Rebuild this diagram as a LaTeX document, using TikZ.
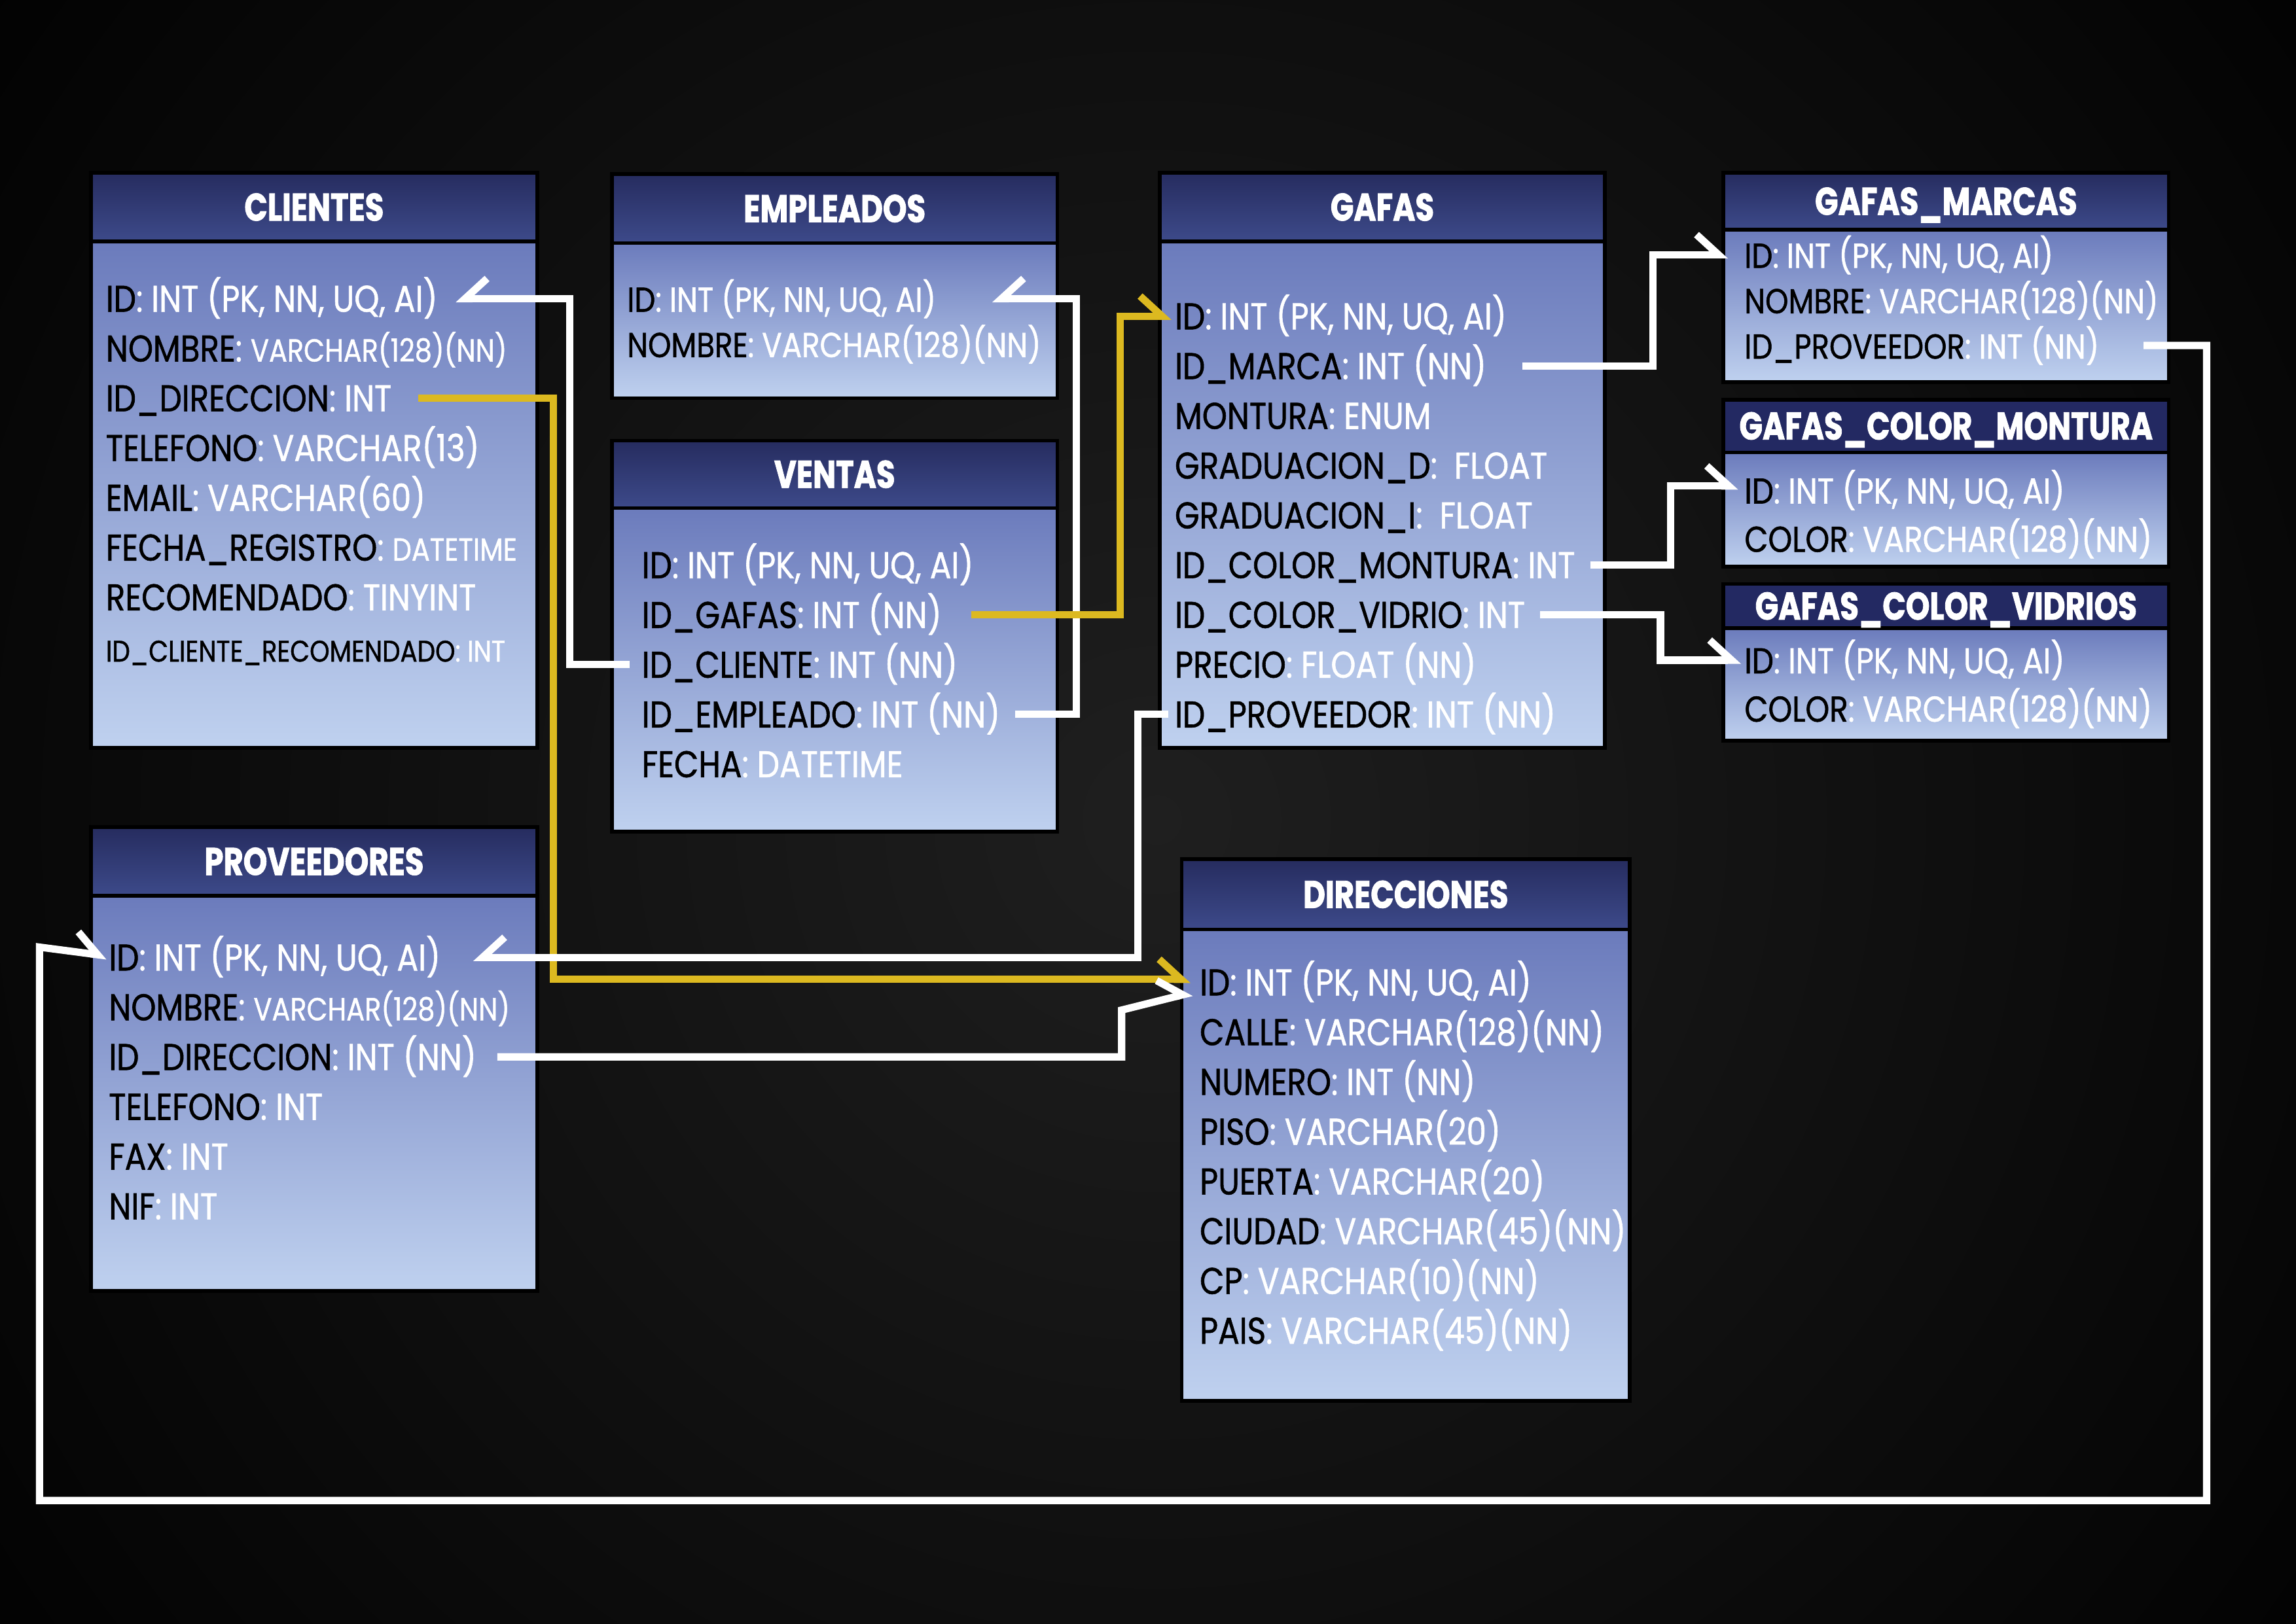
\documentclass[tikz,border=0pt]{standalone}
\usepackage{fontspec}
\newfontfamily\fldfont{Poppins}[FakeStretch=0.85, FakeBold=1]
\newfontfamily\ttlfont{Poppins}[FakeStretch=0.79, FakeBold=1.5]
\usetikzlibrary{
  arrows.meta,
  fit,
  calc,
  positioning,
}
\definecolor{hdrtop}{HTML}{262C5F}
\definecolor{hdrbot}{HTML}{3D4A8A}
\definecolor{hdrflat}{HTML}{232962}
\definecolor{bodytop}{HTML}{6B7BBC}
\definecolor{bodybot}{HTML}{BFD1EF}
\definecolor{oro}{HTML}{DCB920}
\definecolor{bgglow}{HTML}{1F1F1F}

\newcommand{\tipo}[1]{{\color{white}#1}}
\newcommand{\menor}[1]{{\fontsize{12.4pt}{14pt}\selectfont #1}}

\tikzset{
  cabecera/.style={
    rectangle,
    draw=black,
    line width=0.05cm,
    top color=hdrtop,
    bottom color=hdrbot,
    inner sep=0pt,
  },
  cabeplana/.style={
    rectangle,
    draw=black,
    line width=0.05cm,
    fill=hdrflat,
    inner sep=0pt,
  },
  titulo/.style={
    inner sep=0pt,
    text height=0.37cm,
    text depth=0pt,
    text=white,
    font=\ttlfont\bfseries\fontsize{15pt}{18pt}\selectfont
  },
  cuerpo/.style={
    rectangle,
    draw=black,
    line width=0.05cm,
    top color=bodytop,
    bottom color=bodybot,
    inner sep=0pt,
  },
  fld/.style={
    anchor=base west,
    inner sep=0pt,
    text height=0.36cm,
    text depth=0pt,
    text=black,
    font=\fldfont\fontsize{14.5pt}{17pt}\selectfont
  },
  fldmd/.style={
    fld,
    font=\fldfont\fontsize{14pt}{16pt}\selectfont
  },
  fldsm/.style={
    fld,
    font=\fldfont\fontsize{13.5pt}{16pt}\selectfont
  },
  fldxs/.style={
    fld,
    font=\fldfont\fontsize{11.6pt}{14pt}\selectfont
  },
  bajo/.style={
    below=of #1.base west,
    anchor=base west
  },
  enlace/.style={
    line width=0.1cm,
    draw=white,
  },
  der/.style={
    -{Straight Barb[harpoon, length=0.3cm, width=0.55cm]},
  },
  izq/.style={
    -{Straight Barb[harpoon, swap, length=0.3cm, width=0.55cm]},
  },
}

\begin{document}
\begin{tikzpicture}[x=0.02cm, y=-0.02cm, node distance=0.68cm]

  % Background
  \useasboundingbox (0,0) rectangle (1568,1109);
  \fill[black] (0,0) rectangle (1568,1109);
  \shade[inner color=bgglow, outer color=black] (790,560) circle (1050);

  % CLIENTES
  \node[cuerpo, fit={(62,165) (367,511)}] (cli-b) {};
  \node[cabecera, fit={(62,118) (367,165)}] (cli-h) {};
  \node[titulo] (cli-t) at (cli-h.center) {CLIENTES};
  \node[fld] (cli-id) at (72,213) {ID\tipo{: INT (PK, NN, UQ, AI)}};
  \node[fld, bajo=cli-id] (cli-nom) {NOMBRE\tipo{: \menor{VARCHAR(128)(NN)}}};
  \node[fld, bajo=cli-nom] (cli-dir) {ID\_DIRECCION\tipo{: INT}};
  \node[fld, bajo=cli-dir] (cli-tel) {TELEFONO\tipo{: VARCHAR(13)}};
  \node[fld, bajo=cli-tel] (cli-mail) {EMAIL\tipo{: VARCHAR(60)}};
  \node[fld, bajo=cli-mail] (cli-fec) {FECHA\_REGISTRO\tipo{: \menor{DATETIME}}};
  \node[fld, bajo=cli-fec] (cli-rec) {RECOMENDADO\tipo{: TINYINT}};
  \node[fldxs, below=0.7cm of cli-rec.base west, anchor=base west] (cli-crec) {ID\_CLIENTE\_RECOMENDADO\tipo{: INT}};

  % EMPLEADOS
  \node[cuerpo, fit={(418,166) (722,272)}] (emp-b) {};
  \node[cabecera, fit={(418,119) (722,166)}] (emp-h) {};
  \node[titulo] (emp-t) at (emp-h.center) {EMPLEADOS};
  \node[fldsm] (emp-id) at (428,213) {ID\tipo{: INT (PK, NN, UQ, AI)}};
  \node[fldsm, below=0.62cm of emp-id.base west, anchor=base west] (emp-nom) {NOMBRE\tipo{: VARCHAR(128)(NN)}};

  % VENTAS
  \node[cuerpo, fit={(418,347) (722,568)}] (ven-b) {};
  \node[cabecera, fit={(418,301) (722,347)}] (ven-h) {};
  \node[titulo] (ven-t) at (ven-h.center) {VENTAS};
  \node[fld] (ven-id) at (438,395) {ID\tipo{: INT (PK, NN, UQ, AI)}};
  \node[fld, bajo=ven-id] (ven-gaf) {ID\_GAFAS\tipo{: INT (NN)}};
  \node[fld, bajo=ven-gaf] (ven-cli) {ID\_CLIENTE\tipo{: INT (NN)}};
  \node[fld, bajo=ven-cli] (ven-emp) {ID\_EMPLEADO\tipo{: INT (NN)}};
  \node[fld, bajo=ven-emp] (ven-fec) {FECHA\tipo{: DATETIME}};

  % GAFAS
  \node[cuerpo, fit={(792,165) (1096,511)}] (gaf-b) {};
  \node[cabecera, fit={(792,118) (1096,165)}] (gaf-h) {};
  \node[titulo] (gaf-t) at (gaf-h.center) {GAFAS};
  \node[fld] (gaf-id) at (802,225) {ID\tipo{: INT (PK, NN, UQ, AI)}};
  \node[fld, bajo=gaf-id] (gaf-mar) {ID\_MARCA\tipo{: INT (NN)}};
  \node[fld, bajo=gaf-mar] (gaf-mont) {MONTURA\tipo{: ENUM}};
  \node[fld, bajo=gaf-mont] (gaf-grd) {GRADUACION\_D\tipo{: \ FLOAT}};
  \node[fld, bajo=gaf-grd] (gaf-gri) {GRADUACION\_I\tipo{: \ FLOAT}};
  \node[fld, bajo=gaf-gri] (gaf-mon) {ID\_COLOR\_MONTURA\tipo{: INT}};
  \node[fld, bajo=gaf-mon] (gaf-vid) {ID\_COLOR\_VIDRIO\tipo{: INT}};
  \node[fld, bajo=gaf-vid] (gaf-pre) {PRECIO\tipo{: FLOAT (NN)}};
  \node[fld, bajo=gaf-pre] (gaf-prov) {ID\_PROVEEDOR\tipo{: INT (NN)}};

  % GAFAS_MARCAS
  \node[cuerpo, fit={(1177,157) (1481,261)}] (mar-b) {};
  \node[cabecera, fit={(1177,118) (1481,157)}] (mar-h) {};
  \node[titulo] (mar-t) at (mar-h.center) {GAFAS\_MARCAS};
  \node[fldsm] (mar-id) at (1191,183) {ID\tipo{: INT (PK, NN, UQ, AI)}};
  \node[fldsm, below=0.62cm of mar-id.base west, anchor=base west] (mar-nom) {NOMBRE\tipo{: VARCHAR(128)(NN)}};
  \node[fldsm, below=0.62cm of mar-nom.base west, anchor=base west] (mar-prov) {ID\_PROVEEDOR\tipo{: INT (NN)}};

  % GAFAS_COLOR_MONTURA
  \node[cuerpo, fit={(1177,309) (1481,387)}] (mon-b) {};
  \node[cabeplana, fit={(1177,273) (1481,309)}] (mon-h) {};
  \node[titulo] (mon-t) at (mon-h.center) {GAFAS\_COLOR\_MONTURA};
  \node[fldmd] (mon-id) at (1191,344) {ID\tipo{: INT (PK, NN, UQ, AI)}};
  \node[fldmd, below=0.66cm of mon-id.base west, anchor=base west] (mon-col) {COLOR\tipo{: VARCHAR(128)(NN)}};

  % GAFAS_COLOR_VIDRIOS
  \node[cuerpo, fit={(1177,429) (1481,506)}] (vid-b) {};
  \node[cabeplana, fit={(1177,399) (1481,429)}] (vid-h) {};
  \node[titulo] (vid-t) at (vid-h.center) {GAFAS\_COLOR\_VIDRIOS};
  \node[fldmd] (vid-id) at (1191,460) {ID\tipo{: INT (PK, NN, UQ, AI)}};
  \node[fldmd, below=0.66cm of vid-id.base west, anchor=base west] (vid-col) {COLOR\tipo{: VARCHAR(128)(NN)}};

  % PROVEEDORES
  \node[cuerpo, fit={(62,612) (367,882)}] (prov-b) {};
  \node[cabecera, fit={(62,565) (367,612)}] (prov-h) {};
  \node[titulo] (prov-t) at (prov-h.center) {PROVEEDORES};
  \node[fld] (prov-id) at (74,663) {ID\tipo{: INT (PK, NN, UQ, AI)}};
  \node[fld, bajo=prov-id] (prov-nom) {NOMBRE\tipo{: \menor{VARCHAR(128)(NN)}}};
  \node[fld, bajo=prov-nom] (prov-dir) {ID\_DIRECCION\tipo{: INT (NN)}};
  \node[fld, bajo=prov-dir] (prov-tel) {TELEFONO\tipo{: INT}};
  \node[fld, bajo=prov-tel] (prov-fax) {FAX\tipo{: INT}};
  \node[fld, bajo=prov-fax] (prov-nif) {NIF\tipo{: INT}};

  % DIRECCIONES
  \node[cuerpo, fit={(807,635) (1113,957)}] (dir-b) {};
  \node[cabecera, fit={(807,587) (1113,635)}] (dir-h) {};
  \node[titulo] (dir-t) at (dir-h.center) {DIRECCIONES};
  \node[fld] (dir-id) at (819,680) {ID\tipo{: INT (PK, NN, UQ, AI)}};
  \node[fld, bajo=dir-id] (dir-cal) {CALLE\tipo{: VARCHAR(128)(NN)}};
  \node[fld, bajo=dir-cal] (dir-num) {NUMERO\tipo{: INT (NN)}};
  \node[fld, bajo=dir-num] (dir-pis) {PISO\tipo{: VARCHAR(20)}};
  \node[fld, bajo=dir-pis] (dir-pue) {PUERTA\tipo{: VARCHAR(20)}};
  \node[fld, bajo=dir-pue] (dir-ciu) {CIUDAD\tipo{: VARCHAR(45)(NN)}};
  \node[fld, bajo=dir-ciu] (dir-cp) {CP\tipo{: VARCHAR(10)(NN)}};
  \node[fld, bajo=dir-cp] (dir-pais) {PAIS\tipo{: VARCHAR(45)(NN)}};

  % Arrow ends
  \coordinate (dir-in1) at ($(dir-id.west)+(-6,-2)$);
  \coordinate (dir-in2) at ($(dir-id.west)+(-5,7)$);
  \coordinate (mon-in) at ($(mon-id.west)+(-4,-3)$);
  \coordinate (prov-in) at ($(prov-id.west)+(-1,-1)$);

  % Arrows
  \draw[enlace, izq] ($(ven-cli.west)+(-8,0)$) -| (389,0 |- cli-id.east) -- ($(cli-id.east)+(12,0)$);
  \draw[enlace, izq] ($(ven-emp.east)+(10,0)$) -| (735,0 |- emp-id.east) -- ($(emp-id.east)+(38,0)$);
  \draw[enlace, der, draw=oro] ($(ven-gaf.east)+(20,0)$) -| (765,0 |- gaf-id.west) -- ($(gaf-id.west)+(-2,0)$);
  \draw[enlace, der, draw=oro] ($(cli-dir.east)+(18,0)$) -| (378,0 |- dir-in1) -- (dir-in1);
  \draw[enlace, izq] ($(gaf-prov.west)+(-4,0)$) -| (777,0 |- prov-id.east) -- ($(prov-id.east)+(22,0)$);
  \draw[enlace, der] ($(prov-dir.east)+(14,0)$) -| (766,690) -- (dir-in2);
  \draw[enlace, der] ($(gaf-mar.east)+(24,0)$) -| (1129,0 |- mar-id.west) -- ($(mar-id.west)+(-11,0)$);
  \draw[enlace, der] ($(gaf-mon.east)+(10,0)$) -| (1141,0 |- mon-in) -- (mon-in);
  \draw[enlace, der] ($(gaf-vid.east)+(10,0)$) -| (1134,0 |- vid-id.west) -- ($(vid-id.west)+(-2,0)$);
  \draw[enlace, der] ($(mar-prov.east)+(30,0)$) -| (1507,1025) -| (27,647) -- (prov-in);

\end{tikzpicture}
\end{document}
